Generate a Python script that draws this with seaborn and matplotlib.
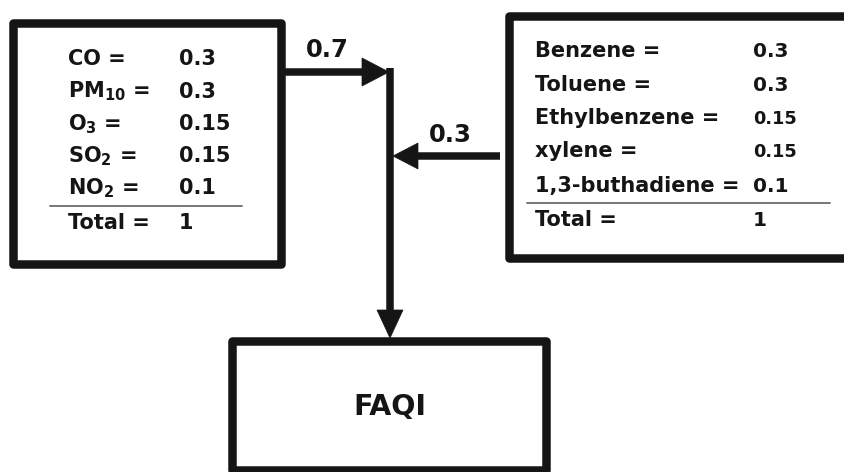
import matplotlib
matplotlib.use("Agg")
import matplotlib.pyplot as plt
import seaborn as sns
import pandas as pd
from matplotlib.patches import Rectangle, Polygon

# ---- data ----
left_labels = ["CO =", r"PM$_{\mathbf{10}}$ =", r"O$_{\mathbf{3}}$ =", r"SO$_{\mathbf{2}}$ =", r"NO$_{\mathbf{2}}$ =", "Total ="]
left_values = ["0.3", "0.3", "0.15", "0.15", "0.1", "1"]
right_labels = ["Benzene =", "Toluene =", "Ethylbenzene =", "xylene =", "1,3-buthadiene =", "Total ="]
right_values = ["0.3", "0.3", "0.15", "0.15", "0.1", "1"]
weights = ["0.7", "0.3"]
target = "FAQI"

sns.set_theme(style="white")
FONT = "DejaVu Sans"
plt.rcParams["font.family"] = [FONT]
plt.rcParams["mathtext.fontset"] = "custom"
plt.rcParams["mathtext.rm"] = FONT + ":bold"
plt.rcParams["mathtext.bf"] = FONT + ":bold"
plt.rcParams["mathtext.it"] = FONT + ":bold"

W, H = 845, 472
fig = plt.figure(figsize=(W / 100, H / 100), dpi=100)
ax = fig.add_axes([0, 0, 1, 1])
ax.set_xlim(0, W)
ax.set_ylim(H, 0)
ax.axis("off")
fig.patch.set_facecolor("white")

PX = 72 / 100  # points per pixel
ink = "#151515"
BOX_LW = 8.5 * PX

def box(x0, y0, x1, y1):
    ax.add_patch(Rectangle((x0, y0), x1 - x0, y1 - y0, fill=False, ec=ink,
                           lw=BOX_LW, joinstyle="round", zorder=3, clip_on=False))

# boxes
box(13.5, 22.5, 281, 264)
# right box runs off the right edge of the image: open outline
ax.plot([850, 509, 509, 850], [16, 16, 257.5, 257.5], color=ink, lw=BOX_LW,
        solid_joinstyle="round", solid_capstyle="butt", zorder=3)
box(232.5, 341, 546.5, 470)

# separators drawn through seaborn
sep = pd.DataFrame({"x": [50, 242], "y": [206, 206]})
sns.lineplot(data=sep, x="x", y="y", ax=ax, color="#777777", lw=1.4, sort=False)
sep2 = pd.DataFrame({"x": [527, 830], "y": [202.5, 202.5]})
sns.lineplot(data=sep2, x="x", y="y", ax=ax, color="#777777", lw=1.4, sort=False)

# left table text
fs = 15
left_base = [65, 97.5, 130, 162, 194, 229]
for lab, val, yb in zip(left_labels, left_values, left_base):
    ax.text(68, yb, lab, fontsize=fs, fontweight="bold", color=ink, va="baseline", ha="left")
    ax.text(179, yb, val, fontsize=fs, fontweight="bold", color=ink, va="baseline", ha="left")

# right table text
right_base = [57, 91, 124, 157, 192, 226]
right_vfs = [14.5, 14.5, 12.8, 12.8, 14.5, 14.5]
for lab, val, yb, vfs in zip(right_labels, right_values, right_base, right_vfs):
    ax.text(535, yb, lab, fontsize=fs, fontweight="bold", color=ink, va="baseline", ha="left")
    ax.text(753, yb, val, fontsize=vfs, fontweight="bold", color=ink, va="baseline", ha="left")

# arrows
lw_a = 7.5 * PX
# 0.7 horizontal
ax.plot([281, 366], [72, 72], color=ink, lw=lw_a, solid_capstyle="butt", zorder=4)
ax.add_patch(Polygon([[362, 58], [362, 86], [389, 72]], closed=True, fc=ink, ec=ink, lw=0.5, zorder=4))
# vertical
ax.plot([390, 390], [68, 313], color=ink, lw=lw_a, solid_capstyle="butt", zorder=4)
ax.add_patch(Polygon([[377, 310], [403, 310], [390, 338]], closed=True, fc=ink, ec=ink, lw=0.5, zorder=4))
# 0.3 horizontal
ax.plot([414, 500], [156, 156], color=ink, lw=lw_a, solid_capstyle="butt", zorder=4)
ax.add_patch(Polygon([[418, 143], [418, 169], [393, 156]], closed=True, fc=ink, ec=ink, lw=0.5, zorder=4))

# weights
ax.text(327, 57, weights[0], fontsize=17.5, fontweight="bold", color=ink, ha="center", va="baseline")
ax.text(450, 142, weights[1], fontsize=17.5, fontweight="bold", color=ink, ha="center", va="baseline")

# target
ax.text(390, 415, target, fontsize=20.5, fontweight="bold", color=ink, ha="center", va="baseline")

fig.savefig("out.png", dpi=100, facecolor="white")
